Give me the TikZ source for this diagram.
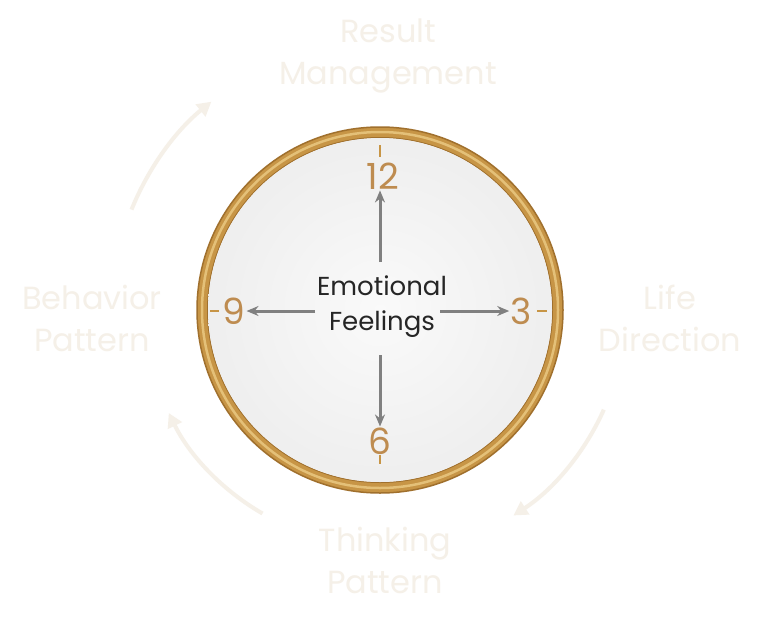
\documentclass[tikz,border=0pt]{standalone}
\usepackage{fontspec}
\setmainfont{Poppins}
\usetikzlibrary{arrows.meta}

\definecolor{gold}{RGB}{199,149,70}
\definecolor{golddark}{RGB}{160,112,45}
\definecolor{goldlight}{RGB}{228,192,120}
\definecolor{numgold}{RGB}{190,140,80}
\definecolor{pale}{RGB}{245,240,232}
\definecolor{handgray}{RGB}{128,128,128}

\begin{document}
\begin{tikzpicture}[x=1pt, y=1pt,
    label/.style = {text=pale, font=\fontsize{32}{42}\selectfont, align=center},
    numeral/.style = {text=numgold, font=\fontsize{36}{36}\selectfont, inner sep=1pt},
    hand/.style = {line width=3pt, handgray, -{Stealth[length=12pt, width=10pt]}},
    cycle/.style = {line width=4pt, pale, -{Triangle[length=14pt, width=15pt]}},
    tick/.style = {gold, line width=1.2pt}]
        \useasboundingbox[fill=white] (0,0) rectangle (768,-629);

        % clock body
        \coordinate (c) at (380,-310);
        \draw[gold, line width=11pt] (c) circle(177.5);
        \draw[golddark, line width=1.5pt] (c) circle(183);
        \draw[goldlight, line width=2.5pt] (c) circle(178);
        \draw[golddark, line width=1pt] (c) circle(172.5);
        \shade[inner color=gray!4, outer color=gray!13] (c) circle(172);

        % ticks
        \draw[tick] (380,-145) -- (380,-157);
        \draw[tick] (380,-455) -- (380,-464);
        \draw[tick] (210,-311) -- (219,-311);
        \draw[tick] (537,-311) -- (547,-311);

        % numerals
        \node[numeral] (n12) at (383,-176) {12};
        \node[numeral] (n3) at (521,-311) {3};
        \node[numeral] (n6) at (380,-441) {6};
        \node[numeral] (n9) at (234,-311) {9};

        % centre
        \node[font=\fontsize{26}{35}\selectfont, align=center, text=black!85] (feel) at (382,-307) {Emotional\\Feelings};
        \coordinate (hup) at (380,-262);
        \coordinate (hdown) at (380,-355);
        \coordinate (hleft) at (315,-311);
        \coordinate (hright) at (440,-311);
        \draw[hand] (hup) -- (hup |- n12.south);
        \draw[hand] (hdown) -- (n6);
        \draw[hand] (hleft) -- (n9);
        \draw[hand] (hright) -- (n3);

        % outer labels
        \node[label] (result) at (388,-56) {Result\\Management};
        \node[label] (life) at (670,-318) {Life\\Direction};
        \node[label] (thinking) at (385,-560) {Thinking\\Pattern};
        \node[label] (behavior) at (92,-318) {Behavior\\Pattern};

        % cycle arrows
        \draw[cycle] (c) ++(158:268) arc (158:129:268);
        \draw[cycle] (c) ++(-24:245) arc (-24:-57:245);
        \draw[cycle] (c) ++(240:235) arc (240:206:235);
\end{tikzpicture}
\end{document}
